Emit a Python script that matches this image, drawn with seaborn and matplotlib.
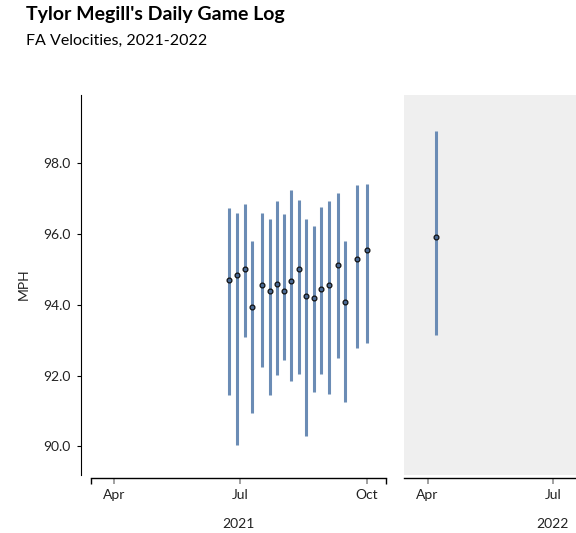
import pandas as pd
import matplotlib.pyplot as plt
import matplotlib.dates as mdates
import seaborn as sns

sns.set_style('white')
plt.rcParams['font.family'] = ['Lato', 'DejaVu Sans']

# game dates and four-seam velocity (avg, min, max)
dates_2021 = ['2021-06-23', '2021-06-29', '2021-07-05', '2021-07-10', '2021-07-17',
              '2021-07-23', '2021-07-28', '2021-08-02', '2021-08-07', '2021-08-13',
              '2021-08-18', '2021-08-24', '2021-08-29', '2021-09-04', '2021-09-10',
              '2021-09-15', '2021-09-24', '2021-10-01']
avg_2021 = [94.69, 94.83, 95.00, 93.94, 94.56, 94.38, 94.60, 94.38, 94.68, 95.00,
            94.26, 94.20, 94.45, 94.56, 95.13, 94.09, 95.31, 95.55]
max_2021 = [96.74, 96.61, 96.84, 95.81, 96.61, 96.42, 96.93, 96.57, 97.25, 96.96,
            96.42, 96.23, 96.76, 96.94, 97.15, 95.81, 97.38, 97.43]
min_2021 = [91.45, 90.03, 93.09, 90.94, 92.23, 91.45, 92.02, 92.43, 91.85, 92.05,
            90.29, 91.54, 92.05, 91.48, 92.49, 91.25, 92.78, 92.92]

dates_2022 = ['2022-04-07']
avg_2022 = [95.91]
max_2022 = [98.93]
min_2022 = [93.14]

df21 = pd.DataFrame({'date': pd.to_datetime(dates_2021), 'avg': avg_2021,
                     'lo': min_2021, 'hi': max_2021})
df22 = pd.DataFrame({'date': pd.to_datetime(dates_2022), 'avg': avg_2022,
                     'lo': min_2022, 'hi': max_2022})

bar_color = '#6b8cb5'
W, H = 576, 533


def rect(x0, y0, x1, y1):
    return [x0 / W, 1 - y1 / H, (x1 - x0) / W, (y1 - y0) / H]


fig = plt.figure(figsize=(5.76, 5.33), dpi=100)
ax1 = fig.add_axes(rect(91, 94.5, 386, 474.5))
ax2 = fig.add_axes(rect(404, 94.5, 700, 474.5), sharey=ax1)

for ax, df, year, months in [(ax1, df21, 2021, [4, 7, 10]), (ax2, df22, 2022, [4, 7])]:
    ax.vlines(df['date'], df['lo'], df['hi'], color=bar_color, lw=2.2, zorder=2)
    sns.scatterplot(data=df, x='date', y='avg', ax=ax, s=12, color='#4a6a95',
                    edgecolor='#111111', linewidth=0.9, zorder=3, legend=False)
    start = pd.Timestamp(f'{year}-03-15')
    end = pd.Timestamp(f'{year}-10-15')
    ax.set_xlim(start, end)
    ax.set_xticks([pd.Timestamp(f'{year}-{m:02d}-01') for m in months])
    ax.xaxis.set_major_formatter(mdates.DateFormatter('%b'))
    ax.tick_params(axis='x', which='major', direction='out', length=4, width=1.3,
                   color='#9a9a9a', labelsize=10, labelcolor='#222222', pad=4,
                   bottom=True)
    ax.set_xlabel(str(year), fontsize=10, color='#222222', labelpad=12)
    for s in ['top', 'right']:
        ax.spines[s].set_visible(False)
    ax.spines['bottom'].set_position(('outward', 2.5))
    ax.spines['bottom'].set_color('black')
    ax.spines['bottom'].set_linewidth(1)

# left panel: y axis and bracket ends on x axis
ax1.set_ylim(89.2, 99.95)
ax1.set_yticks([90, 92, 94, 96, 98])
ax1.yaxis.set_major_formatter(plt.FormatStrFormatter('%.1f'))
ax1.spines['left'].set_position(('outward', 7))
ax1.spines['left'].set_color('black')
ax1.tick_params(axis='y', direction='out', length=3, width=0.8, color='black',
                labelsize=10, labelcolor='#222222', pad=4.5, left=True)
ax1.set_ylabel('MPH', fontsize=10, color='#222222', labelpad=10)
ax1.set_xticks([pd.Timestamp('2021-03-15'), pd.Timestamp('2021-10-15')], minor=True)
ax1.tick_params(axis='x', which='minor', direction='out', length=4.5, width=1,
                color='black', bottom=True)

# right panel: gray background, no y axis
ax2.set_facecolor('#efefef')
ax2.spines['left'].set_visible(False)
ax2.tick_params(axis='y', left=False, labelleft=False)
ax2.set_ylabel('')

fig.text(26 / W, 1 - 6 / H, "Tylor Megill's Daily Game Log", fontsize=14,
         fontweight='bold', va='top', ha='left', color='black')
fig.text(26 / W, 1 - 34 / H, 'FA Velocities, 2021-2022', fontsize=11.5,
         va='top', ha='left', color='black')

plt.savefig('out.png', dpi=100)
